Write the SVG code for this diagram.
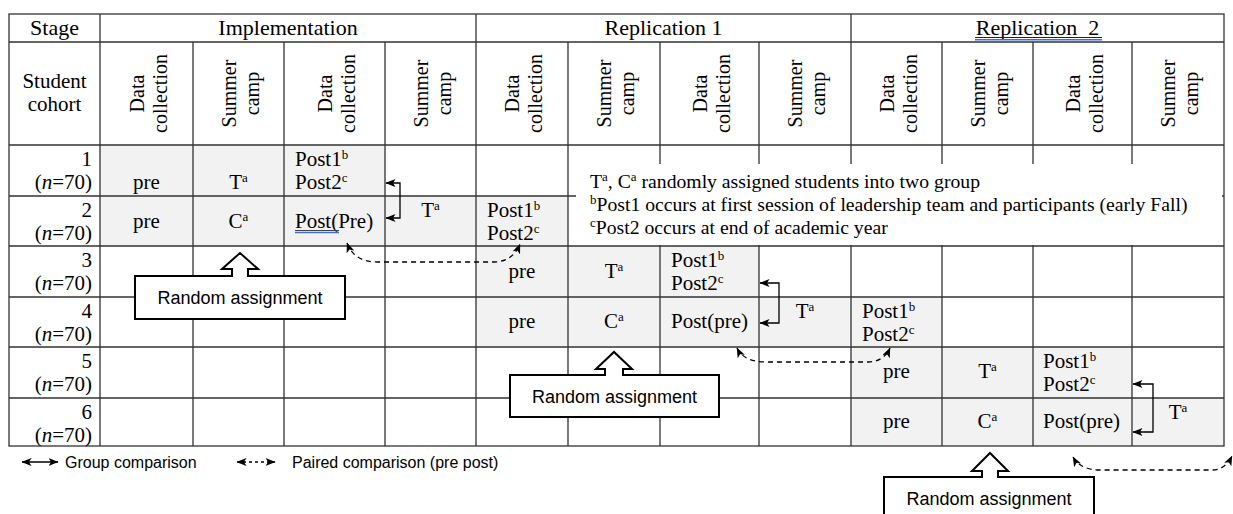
<svg xmlns="http://www.w3.org/2000/svg" width="1233" height="514" viewBox="0 0 1233 514">
<style>
.t{font-family:"Liberation Serif","Times New Roman",serif;font-size:21px;fill:#000}
.h1{font-size:22px}
.vh{font-size:20px}
.nt{font-size:19.7px}
.sup{font-size:13px}
.c{text-anchor:middle}
.e{text-anchor:end}
.s{font-family:"Liberation Sans",Arial,sans-serif;fill:#000}
.gl{stroke:#333;stroke-width:1.3;fill:none}
.gray{fill:#f2f2f2}
.cn{stroke:#000;stroke-width:1.3;fill:none;marker-start:url(#ah);marker-end:url(#ah)}
.dash{stroke-dasharray:5,4}
.co{fill:#fff;stroke:#000;stroke-width:2}
</style>
<defs>
<marker id="ah" viewBox="0 0 10 8" refX="9.5" refY="4" markerWidth="10" markerHeight="8" markerUnits="userSpaceOnUse" orient="auto-start-reverse">
<path d="M0,0 L10,4 L0,8 L2.5,4 Z" fill="#000"/>
</marker>
</defs>
<rect width="1233" height="514" fill="#fff"/>

<g id="shading">
<rect class="gray" x="100" y="145" width="285" height="51"/>
<rect class="gray" x="100" y="196" width="468" height="50"/>
<rect class="gray" x="476" y="246" width="283" height="51"/>
<rect class="gray" x="476" y="297" width="466" height="50"/>
<rect class="gray" x="851" y="347" width="281" height="51"/>
<rect class="gray" x="851" y="398" width="373" height="48"/>
</g>

<g id="grid" class="gl">
<rect x="9" y="14" width="1215" height="432"/>
<path d="M9,42H1224M9,145H1224M9,196H1224M9,246H1224M9,297H1224M9,347H1224M9,398H1224"/>
<path d="M100,14V446M476,14V446M851,14V446"/>
<path d="M193,42V446M284,42V446M385,42V446M568,42V446M660,42V446M759,42V446M942,42V446M1033,42V446M1132,42V446"/>
</g>

<g id="header">
<text class="t h1 c" x="54.5" y="35">Stage</text>
<text class="t h1 c" x="288" y="35">Implementation</text>
<text class="t h1 c" x="663.5" y="35">Replication 1</text>
<text class="t h1 c" x="1037.5" y="35" xml:space="preserve" style="white-space:pre">Replication  2</text>
<line x1="975" y1="37.5" x2="1102" y2="37.5" stroke="#222" stroke-width="1"/>
<line x1="975" y1="39.5" x2="1102" y2="39.5" stroke="#3b6fd6" stroke-width="1"/>
<line x1="975" y1="41" x2="1102" y2="41" stroke="#3b6fd6" stroke-width="1"/>
<text class="t c" x="54.5" y="88">Student</text>
<text class="t c" x="54.5" y="111">cohort</text>
<g class="t vh c">
<text transform="translate(146.5,93.5) rotate(-90)"><tspan x="0" y="-3">Data</tspan><tspan x="0" y="20">collection</tspan></text>
<text transform="translate(238.5,93.5) rotate(-90)"><tspan x="0" y="-3">Summer</tspan><tspan x="0" y="20">camp</tspan></text>
<text transform="translate(334.5,93.5) rotate(-90)"><tspan x="0" y="-3">Data</tspan><tspan x="0" y="20">collection</tspan></text>
<text transform="translate(430.5,93.5) rotate(-90)"><tspan x="0" y="-3">Summer</tspan><tspan x="0" y="20">camp</tspan></text>
<text transform="translate(522,93.5) rotate(-90)"><tspan x="0" y="-3">Data</tspan><tspan x="0" y="20">collection</tspan></text>
<text transform="translate(614,93.5) rotate(-90)"><tspan x="0" y="-3">Summer</tspan><tspan x="0" y="20">camp</tspan></text>
<text transform="translate(709.5,93.5) rotate(-90)"><tspan x="0" y="-3">Data</tspan><tspan x="0" y="20">collection</tspan></text>
<text transform="translate(805,93.5) rotate(-90)"><tspan x="0" y="-3">Summer</tspan><tspan x="0" y="20">camp</tspan></text>
<text transform="translate(896.5,93.5) rotate(-90)"><tspan x="0" y="-3">Data</tspan><tspan x="0" y="20">collection</tspan></text>
<text transform="translate(987.5,93.5) rotate(-90)"><tspan x="0" y="-3">Summer</tspan><tspan x="0" y="20">camp</tspan></text>
<text transform="translate(1082.5,93.5) rotate(-90)"><tspan x="0" y="-3">Data</tspan><tspan x="0" y="20">collection</tspan></text>
<text transform="translate(1178,93.5) rotate(-90)"><tspan x="0" y="-3">Summer</tspan><tspan x="0" y="20">camp</tspan></text>
</g>
</g>

<g id="row-labels" class="t e">
<text x="92" y="166">1</text><text x="92" y="189">(<tspan font-style="italic">n</tspan>=70)</text>
<text x="92" y="217">2</text><text x="92" y="240">(<tspan font-style="italic">n</tspan>=70)</text>
<text x="92" y="267">3</text><text x="92" y="290">(<tspan font-style="italic">n</tspan>=70)</text>
<text x="92" y="318">4</text><text x="92" y="341">(<tspan font-style="italic">n</tspan>=70)</text>
<text x="92" y="368">5</text><text x="92" y="391">(<tspan font-style="italic">n</tspan>=70)</text>
<text x="92" y="419">6</text><text x="92" y="442">(<tspan font-style="italic">n</tspan>=70)</text>
</g>

<g id="cohort1" class="t">
<text class="c" x="146.5" y="189">pre</text>
<text class="c" x="238.5" y="189">T<tspan class="sup" dy="-7">a</tspan></text>
<text x="295" y="166">Post1<tspan class="sup" dy="-7">b</tspan></text>
<text x="295" y="189">Post2<tspan class="sup" dy="-7">c</tspan></text>
</g>
<g id="cohort2" class="t">
<text class="c" x="146.5" y="228">pre</text>
<text class="c" x="238.5" y="228">C<tspan class="sup" dy="-7">a</tspan></text>
<text x="295" y="228">Post(Pre)</text>
<line x1="295" y1="230.5" x2="339" y2="230.5" stroke="#444" stroke-width="1"/>
<line x1="295" y1="232.5" x2="339" y2="232.5" stroke="#3b6fd6" stroke-width="1.3"/>
<text class="c" x="430.5" y="217">T<tspan class="sup" dy="-7">a</tspan></text>
<text x="487" y="217">Post1<tspan class="sup" dy="-7">b</tspan></text>
<text x="487" y="240">Post2<tspan class="sup" dy="-7">c</tspan></text>
</g>
<g id="cohort3" class="t">
<text class="c" x="522" y="278">pre</text>
<text class="c" x="614" y="278">T<tspan class="sup" dy="-7">a</tspan></text>
<text x="671" y="267">Post1<tspan class="sup" dy="-7">b</tspan></text>
<text x="671" y="290">Post2<tspan class="sup" dy="-7">c</tspan></text>
</g>
<g id="cohort4" class="t">
<text class="c" x="522" y="328">pre</text>
<text class="c" x="614" y="328">C<tspan class="sup" dy="-7">a</tspan></text>
<text x="671" y="328">Post(pre)</text>
<text class="c" x="805" y="318">T<tspan class="sup" dy="-7">a</tspan></text>
<text x="862" y="318">Post1<tspan class="sup" dy="-7">b</tspan></text>
<text x="862" y="341">Post2<tspan class="sup" dy="-7">c</tspan></text>
</g>
<g id="cohort5" class="t">
<text class="c" x="896.5" y="378">pre</text>
<text class="c" x="987.5" y="378">T<tspan class="sup" dy="-7">a</tspan></text>
<text x="1043" y="368">Post1<tspan class="sup" dy="-7">b</tspan></text>
<text x="1043" y="391">Post2<tspan class="sup" dy="-7">c</tspan></text>
</g>
<g id="cohort6" class="t">
<text class="c" x="896.5" y="428">pre</text>
<text class="c" x="987.5" y="428">C<tspan class="sup" dy="-7">a</tspan></text>
<text x="1043" y="428">Post(pre)</text>
<text class="c" x="1178" y="419">T<tspan class="sup" dy="-7">a</tspan></text>
</g>

<g id="note">
<rect x="576" y="164" width="646" height="81" fill="#fff"/>
<text class="t nt" x="590" y="188">T<tspan class="sup" dy="-7">a</tspan><tspan dy="7">, C</tspan><tspan class="sup" dy="-7">a</tspan><tspan dy="7"> randomly assigned students into two group</tspan></text>
<text class="t nt" x="590" y="211"><tspan class="sup" dy="-7">b</tspan><tspan dy="7">Post1 occurs at first session of leadership team and participants (early Fall)</tspan></text>
<text class="t nt" x="590" y="234"><tspan class="sup" dy="-7">c</tspan><tspan dy="7">Post2 occurs at end of academic year</tspan></text>
</g>

<g id="connectors">
<path class="cn" d="M386,183 H400 V218 H386"/>
<path class="cn" d="M760,283 H779 V323 H760"/>
<path class="cn" d="M1133,384 H1153 V432 H1133"/>
<path class="cn dash" d="M347,243 C352,256 362,262 378,262 L494,262 C506,262 515,256 520,244"/>
<path class="cn dash" d="M737,348 C742,358 752,362 766,362 L868,362 C878,362 886,357 890,348"/>
<path class="cn dash" d="M1073,457 C1078,466 1088,470 1100,470 L1212,470 C1222,470 1228,464 1232,456"/>
</g>

<g id="callout1">
<path class="co" d="M135,276 H232 V269 H222 L240,253 L258,269 H248 V276 H345 V319 H135 Z"/>
<text class="s c" x="240" y="304" font-size="18">Random assignment</text>
</g>
<g id="callout2">
<path class="co" d="M510,375 H605 V369 H596 L614,352 L632,369 H623 V375 H719 V417 H510 Z"/>
<text class="s c" x="614.5" y="403" font-size="18">Random assignment</text>
</g>
<g id="callout3">
<path class="co" d="M884,477 H982 V471 H972 L990,453 L1008,471 H998 V477 H1094 V519 H884 Z"/>
<text class="s c" x="989" y="505" font-size="18">Random assignment</text>
</g>

<g id="legend">
<path class="cn" d="M22,462 H58"/>
<text class="s" x="65" y="468" font-size="16">Group comparison</text>
<path class="cn" d="M237,462 H275" style="stroke-dasharray:3,3"/>
<text class="s" x="292" y="468" font-size="16">Paired comparison (pre post)</text>
</g>
</svg>
